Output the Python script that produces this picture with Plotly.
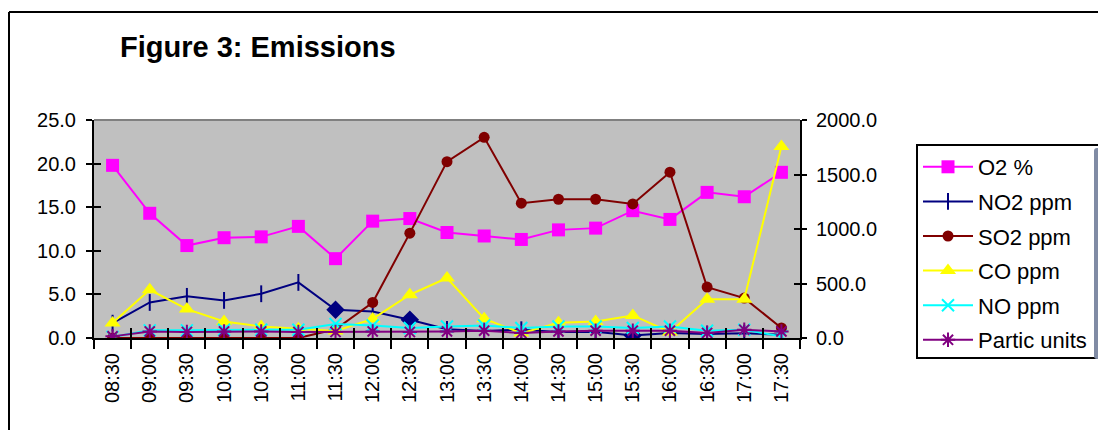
import plotly.graph_objects as go

times = ["08:30", "09:00", "09:30", "10:00", "10:30", "11:00", "11:30", "12:00", "12:30",
         "13:00", "13:30", "14:00", "14:30", "15:00", "15:30", "16:00", "16:30", "17:00", "17:30"]

o2_pct = [19.8, 14.3, 10.6, 11.5, 11.6, 12.8, 9.1, 13.4, 13.7, 12.1, 11.7, 11.3, 12.4, 12.6,
          14.6, 13.6, 16.7, 16.2, 19.0]
no2_ppm = [136, 326, 382, 345, 406, 510, 259, 244, 168, 80, 64, 76, 56, 58, 24, 46, 37, 44, 30]
so2_ppm = [0, 0, 0, 0, 0, 0, 80, 326, 962, 1618, 1841, 1237, 1273, 1273, 1230, 1521, 467, 366, 92]
co_ppm = [137, 442, 265, 152, 106, 85, 65, 175, 397, 550, 177, 45, 140, 152, 207, 55, 355, 355, 1756]
no_ppm = [10, 70, 70, 75, 75, 75, 128, 115, 92, 106, 115, 92, 106, 106, 92, 106, 67, 76, 15]
partic_units = [15, 60, 55, 60, 60, 55, 55, 60, 55, 60, 67, 46, 60, 67, 67, 67, 46, 76, 60]

no2_symbols = ["line-ns"] * len(times)
for i in (6, 8, 14):
    no2_symbols[i] = "diamond"

FONT = "Liberation Sans, Arial, sans-serif"

W, H = 1098, 430
L, R, T, B = 94, 298, 120, 92
PW, PH = W - L - R, H - T - B

fig = go.Figure()

fig.add_trace(go.Scatter(
    x=times, y=o2_pct, name="O2 %", mode="lines+markers", legendgroup="a",
    line=dict(color="#FF00FF", width=2),
    marker=dict(symbol="square", size=13, color="#FF00FF"),
))
fig.add_trace(go.Scatter(
    x=times, y=no2_ppm, name="NO2 ppm", mode="lines+markers", yaxis="y2", legendgroup="b",
    line=dict(color="#000080", width=2),
    marker=dict(symbol=no2_symbols, size=12, color="#000080",
                line=dict(color="#000080", width=2)),
))
fig.add_trace(go.Scatter(
    x=times, y=so2_ppm, name="SO2 ppm", mode="lines+markers", yaxis="y2", legendgroup="c",
    line=dict(color="#800000", width=2),
    marker=dict(symbol="circle", size=11, color="#800000"),
))
fig.add_trace(go.Scatter(
    x=times, y=co_ppm, name="CO ppm", mode="lines+markers", yaxis="y2", legendgroup="d",
    line=dict(color="#FFFF00", width=2),
    marker=dict(symbol="triangle-up", size=14, color="#FFFF00"),
))
fig.add_trace(go.Scatter(
    x=times, y=no_ppm, name="NO ppm", mode="lines+markers", yaxis="y2", legendgroup="e",
    line=dict(color="#00FFFF", width=2),
    marker=dict(symbol="x-thin", size=12, color="#00FFFF",
                line=dict(color="#00FFFF", width=2)),
))
fig.add_trace(go.Scatter(
    x=times, y=partic_units, name="Partic units", mode="lines+markers", yaxis="y2", legendgroup="f",
    line=dict(color="#800080", width=2),
    marker=dict(symbol="asterisk", size=12, color="#800080",
                line=dict(color="#800080", width=2)),
))

# invisible helpers so the overlay axes (inside tick halves) are drawn
for xa, ya in (("x2", "y"), ("x", "y3"), ("x", "y4")):
    fig.add_trace(go.Scatter(x=[times[0]], y=[0], xaxis=xa, yaxis=ya, mode="markers",
                             marker=dict(opacity=0), showlegend=False, hoverinfo="skip"))

tickfont = dict(family=FONT, size=20, color="black")

fig.update_layout(
    width=W, height=H,
    margin=dict(l=L, r=R, t=T, b=B, autoexpand=False),
    paper_bgcolor="white",
    plot_bgcolor="#C0C0C0",
    font=dict(family=FONT, color="black"),
    title=dict(text="<b>Figure 3: Emissions</b>", xref="container", yref="container",
               x=120 / W, xanchor="left", y=1 - 47 / H, yanchor="middle",
               font=dict(family=FONT, size=29, color="black")),
    xaxis=dict(type="category", categoryorder="array", categoryarray=times,
               range=[-0.5, len(times) - 0.5], tickson="boundaries",
               ticks="outside", ticklen=9, tickwidth=2, tickcolor="black",
               showline=True, linecolor="black", linewidth=2, showgrid=False,
               tickangle=-90, tickfont=tickfont, zeroline=False, ticklabelstandoff=5),
    xaxis2=dict(type="category", categoryorder="array", categoryarray=times,
                overlaying="x", anchor="y", side="bottom",
                range=[-0.5, len(times) - 0.5], tickson="boundaries",
                ticks="inside", ticklen=10, tickwidth=2, tickcolor="black",
                showticklabels=False, showline=False, showgrid=False, zeroline=False),
    yaxis=dict(range=[0, 25], dtick=5, tickformat=".1f", ticks="outside", ticklen=6,
               tickwidth=2, tickcolor="black", showline=True, linecolor="black", linewidth=2,
               showgrid=False, zeroline=False, tickfont=tickfont, ticklabelstandoff=6),
    yaxis2=dict(range=[0, 2000], dtick=500, tickformat=".1f", overlaying="y", side="right",
                anchor="x", ticks="outside", ticklen=5, tickwidth=2, tickcolor="black",
                showline=True, linecolor="black", linewidth=2, showgrid=False,
                zeroline=False, tickfont=tickfont, ticklabelstandoff=5),
    yaxis3=dict(range=[0, 25], dtick=5, overlaying="y", side="left", anchor="x",
                ticks="inside", ticklen=7, tickwidth=2, tickcolor="black",
                showticklabels=False, showline=False, showgrid=False, zeroline=False),
    yaxis4=dict(range=[0, 2000], dtick=500, overlaying="y", side="right", anchor="x",
                ticks="inside", ticklen=6, tickwidth=2, tickcolor="black",
                showticklabels=False, showline=False, showgrid=False, zeroline=False),
    legend=dict(xref="container", yref="container",
                x=916 / W, xanchor="left", y=1 - 144 / H, yanchor="top",
                bgcolor="white", bordercolor="black", borderwidth=2,
                font=dict(family=FONT, size=22, color="black"),
                tracegroupgap=3, itemwidth=50, traceorder="grouped"),
    showlegend=True,
)

# plot area top border and outer chart frame (left and top edges visible)
fig.add_shape(type="line", xref="paper", yref="paper", x0=0, x1=1, y0=1, y1=1,
              line=dict(color="#808080", width=2))
fig.add_shape(type="line", xref="paper", yref="paper",
              x0=(9 - L) / PW, x1=(9 - L) / PW, y0=(PH + T - 12) / PH, y1=-0.6,
              line=dict(color="black", width=2), layer="below")
fig.add_shape(type="line", xref="paper", yref="paper",
              x0=(9 - L) / PW, x1=1.6, y0=(PH + T - 12) / PH, y1=(PH + T - 12) / PH,
              line=dict(color="black", width=2), layer="below")

fig.write_html("out.html", config={"displayModeBar": False},
               post_script="document.documentElement.style.overflow='hidden';"
                           "document.body.style.overflow='hidden';"
                           "document.body.style.margin='0';")
